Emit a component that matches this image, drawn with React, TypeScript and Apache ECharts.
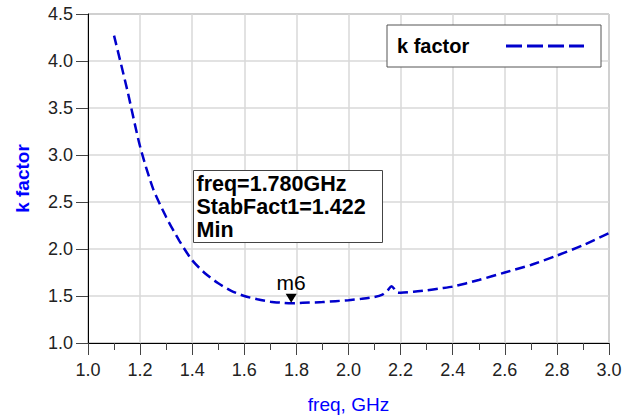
import React, { useEffect, useRef } from "react";
import * as echarts from "echarts";

const freqGHz = [
  1.1, 1.15, 1.2, 1.25, 1.3, 1.35, 1.4, 1.45, 1.5, 1.55, 1.6, 1.65, 1.7, 1.75, 1.78, 1.8,
  1.85, 1.9, 1.95, 2.0, 2.05, 2.1, 2.13, 2.15, 2.165, 2.18, 2.19, 2.2, 2.25, 2.3, 2.35,
  2.4, 2.5, 2.6, 2.7, 2.8, 2.9, 3.0,
];
const kFactor = [
  4.27, 3.7, 3.09, 2.64, 2.34, 2.09, 1.88, 1.74, 1.635, 1.555, 1.5, 1.465, 1.44, 1.427, 1.422,
  1.424, 1.43, 1.435, 1.445, 1.455, 1.47, 1.49, 1.515, 1.56, 1.605, 1.56, 1.535, 1.535, 1.545,
  1.56, 1.58, 1.6, 1.67, 1.75, 1.83, 1.93, 2.04, 2.17,
];
const xTicks = ["1.0", "1.2", "1.4", "1.6", "1.8", "2.0", "2.2", "2.4", "2.6", "2.8", "3.0"];
const yTicks = ["1.0", "1.5", "2.0", "2.5", "3.0", "3.5", "4.0", "4.5"];
const seriesName = "k factor";
const markerName = "m6";

const FONT = 'Arial, "Liberation Sans", sans-serif';
const DASH_ICON = "path://M0,0h16v3h-16zM21,0h16v3h-16zM42,0h16v3h-16zM63,0h15v3h-15z";

export default function App() {
  const ref = useRef<HTMLDivElement>(null);
  useEffect(() => {
    if (!ref.current) return;
    const chart = echarts.init(ref.current, null, { renderer: "svg" });
    let minIdx = 0;
    kFactor.forEach((v, i) => {
      if (v < kFactor[minIdx]) minIdx = i;
    });
    const minF = freqGHz[minIdx];
    const minK = kFactor[minIdx];
    const xMin = parseFloat(xTicks[0]);
    const xMax = parseFloat(xTicks[xTicks.length - 1]);
    const yMin = parseFloat(yTicks[0]);
    const yMax = parseFloat(yTicks[yTicks.length - 1]);
    const infoLines = [`freq=${minF.toFixed(3)}GHz`, `StabFact1=${minK.toFixed(3)}`, "Min"];
    chart.setOption({
      animation: false,
      grid: {
        left: 88,
        right: 25,
        top: 14,
        bottom: 77,
        show: true,
        borderColor: "#6e6e6e",
        borderWidth: 1,
        backgroundColor: "transparent",
      },
      legend: {
        left: 387,
        top: 25,
        align: "right",
        padding: [11, 17, 11, 10],
        borderColor: "#555",
        borderWidth: 1,
        backgroundColor: "#fff",
        itemWidth: 78,
        itemHeight: 3,
        icon: DASH_ICON,
        data: [{ name: seriesName, icon: DASH_ICON }],
        itemStyle: { color: "#0000cc" },
        formatter: (n: string) => `{a|${n}}`,
        textStyle: {
          rich: {
            a: {
              width: 104,
              height: 22,
              align: "left",
              fontSize: 20,
              fontWeight: "bold",
              fontFamily: FONT,
              color: "#000",
            },
          },
        },
      },
      xAxis: {
        type: "value",
        min: xMin,
        max: xMax,
        interval: 0.2,
        name: "freq, GHz",
        nameLocation: "middle",
        nameGap: 52,
        nameTextStyle: { color: "#0000ff", fontSize: 19, fontFamily: FONT },
        axisLine: { lineStyle: { color: "#000", width: 1 } },
        axisTick: { show: true, length: 12, lineStyle: { color: "#444" } },
        minorTick: { show: true, splitNumber: 2, length: 7, lineStyle: { color: "#444" } },
        axisLabel: {
          margin: 18,
          fontSize: 18,
          fontFamily: FONT,
          color: "#222",
          formatter: (v: number) => v.toFixed(1),
        },
        splitLine: { show: true, lineStyle: { color: "#d9d9d9", width: 1.5 } },
      },
      yAxis: {
        type: "value",
        min: yMin,
        max: yMax,
        interval: 0.5,
        name: seriesName,
        nameLocation: "middle",
        nameGap: 56,
        nameTextStyle: { color: "#0000ff", fontSize: 19, fontWeight: "bold", fontFamily: FONT },
        axisLine: { show: true, lineStyle: { color: "#000", width: 1 } },
        axisTick: { show: true, length: 12, lineStyle: { color: "#444" } },
        axisLabel: {
          margin: 15,
          fontSize: 18,
          fontFamily: FONT,
          color: "#222",
          formatter: (v: number) => v.toFixed(1),
        },
        splitLine: { show: true, lineStyle: { color: "#d9d9d9", width: 1.5 } },
      },
      series: [
        {
          name: seriesName,
          type: "line",
          data: freqGHz.map((f, i) => [f, kFactor[i]]),
          showSymbol: false,
          symbol: "none",
          smooth: 0.25,
          lineStyle: { color: "#0000cc", width: 2.5, type: [10, 5] },
          itemStyle: { color: "#0000cc" },
          markPoint: {
            symbol: "triangle",
            symbolSize: [11, 9],
            symbolRotate: 180,
            symbolOffset: [0, -5],
            itemStyle: { color: "#000" },
            label: {
              show: true,
              position: "top",
              distance: 1,
              formatter: markerName,
              fontSize: 21,
              fontFamily: FONT,
              color: "#000",
            },
            data: [{ name: markerName, coord: [minF, minK] }],
          },
        },
      ],
      graphic: [
        {
          type: "group",
          left: 193,
          top: 170,
          z: 100,
          children: [
            {
              type: "rect",
              z: 100,
              shape: { x: 0, y: 0, width: 189, height: 72 },
              style: { fill: "#fff", stroke: "#444", lineWidth: 1 },
            },
            ...infoLines.map((t, i) => ({
              type: "text",
              z: 101,
              x: 3,
              y: 2 + i * 23,
              style: {
                text: t,
                font: `bold 21.5px ${FONT}`,
                fill: "#000",
              },
            })),
          ],
        },
      ],
    });
    return () => chart.dispose();
  }, []);
  return (
    <div
      ref={ref}
      style={{ position: "fixed", left: 0, top: 0, width: 634, height: 420, background: "#fff" }}
    />
  );
}
